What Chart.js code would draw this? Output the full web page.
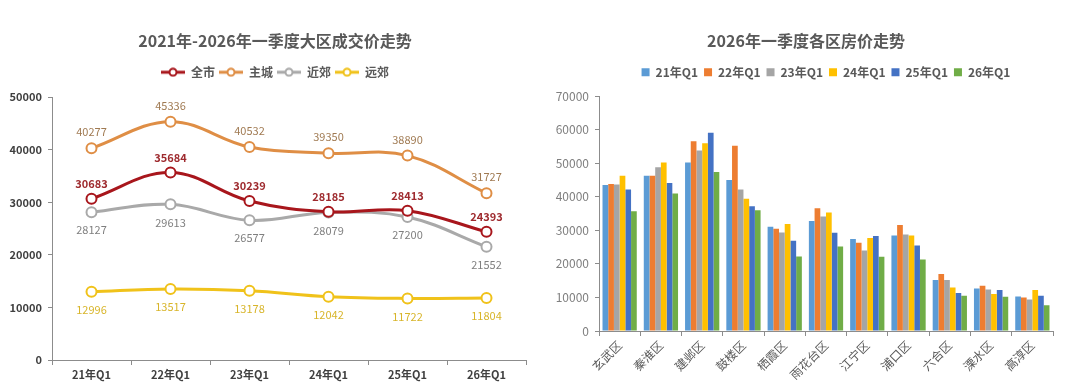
<!DOCTYPE html>
<html><head><meta charset="utf-8">
<script src="https://cdn.jsdelivr.net/npm/chart.js@4.4.1/dist/chart.umd.min.js"></script>
<style>
html,body{margin:0;padding:0;background:#fff;}
#wrap{position:relative;width:1080px;height:388px;}
canvas{position:absolute;top:0;}
#c1{left:0;} #c2{left:540px;}
</style></head><body>
<div id="wrap"><canvas id="c1" width="540" height="388"></canvas><canvas id="c2" width="540" height="388"></canvas></div>
<script>
// ---- Left chart data ----
const quarters = ['21年Q1','22年Q1','23年Q1','24年Q1','25年Q1','26年Q1'];
const cityAll = [30683,35684,30239,28185,28413,24393];
const mainCity = [40277,45336,40532,39350,38890,31727];
const nearSuburb = [28127,29613,26577,28079,27200,21552];
const farSuburb = [12996,13517,13178,12042,11722,11804];
const lineNames = ['全市','主城','近郊','远郊'];

// ---- Right chart data ----
const districts = ['玄武区','秦淮区','建邺区','鼓楼区','栖霞区','雨花台区','江宁区','浦口区','六合区','溧水区','高淳区'];
const barNames = ['21年Q1','22年Q1','23年Q1','24年Q1','25年Q1','26年Q1'];
const q21 = [43500,46300,50200,45000,31100,32800,27400,28500,15200,12700,10300];
const q22 = [43800,46300,56600,55200,30500,36600,26300,31600,17000,13500,10000];
const q23 = [43700,48800,53800,42200,29400,34100,24000,28800,15200,12400,9400];
const q24 = [46300,50200,56000,39400,31900,35300,27700,28500,13000,11000,12200];
const q25 = [42200,44100,59100,37200,26900,29300,28300,25500,11300,12200,10500];
const q26 = [35700,41000,47400,36000,22200,25200,22100,21300,10500,10200,7700];

const FAM = '"Noto Sans CJK SC", "Noto Sans", sans-serif';
Chart.defaults.font.family = FAM;
Chart.defaults.animation = false;

const lineColors = ['#A8161C','#DF8E45','#A9A9A9','#F0C21A'];
const labelColors = ['#9E2A2E','#A07A52','#7F7F7F','#D8B52A'];
const labelWeights = ['bold','normal','normal','normal'];
const labelDy = [-15,-16,18,18];

function legendIcon(color){
  const c = document.createElement('canvas');
  c.width = 24; c.height = 10;
  const g = c.getContext('2d');
  g.strokeStyle = color; g.lineWidth = 3;
  g.beginPath(); g.moveTo(0,5); g.lineTo(24,5); g.stroke();
  g.fillStyle = '#fff'; g.lineWidth = 2;
  g.beginPath(); g.arc(12,5,3.5,0,Math.PI*2); g.fill(); g.stroke();
  return c;
}
const icons = lineColors.map(legendIcon);

function spacerPlugin(h){
  return {
    id:'spacer',
    beforeInit(chart){
      const box = {
        position:'top', weight:500, fullSize:true, options:{},
        left:0, top:0, right:0, bottom:0, width:0, height:0,
        isHorizontal(){ return true; },
        update(maxW){ this.width = maxW; this.height = h; },
        draw(){}
      };
      Chart.layouts.addBox(chart, box);
    },
    // let the y tick labels use the left padding area (avoid clipping)
    afterLayout(chart){ if (chart.scales.y) chart.scales.y.left = 0; }
  };
}

const labelPlugin = {
  id:'ptLabels',
  afterDatasetsDraw(chart){
    const ctx = chart.ctx;
    chart.data.datasets.forEach((ds,i)=>{
      const meta = chart.getDatasetMeta(i);
      ctx.save();
      ctx.font = labelWeights[i] + ' 11px ' + FAM;
      ctx.fillStyle = labelColors[i];
      ctx.textAlign = 'center'; ctx.textBaseline = 'middle';
      meta.data.forEach((pt,j)=>{ ctx.fillText(String(ds.data[j]), pt.x, pt.y + labelDy[i]); });
      ctx.restore();
    });
  }
};

const plain = v => String(v);

const lineSeries = [cityAll, mainCity, nearSuburb, farSuburb];
new Chart(document.getElementById('c1'), {
  type:'line',
  data:{
    labels: quarters,
    datasets: lineSeries.map((d,i)=>({
      label: lineNames[i], data: d,
      borderColor: lineColors[i], backgroundColor:'#fff',
      borderWidth: 3, tension: 0.38,
      pointRadius: 5, pointBorderWidth: 2, pointBackgroundColor:'#fff', pointBorderColor: lineColors[i]
    }))
  },
  options:{
    responsive:false,
    layout:{padding:{left:24,right:14,top:0,bottom:0}},
    plugins:{
      title:{display:true,text:'2021年-2026年一季度大区成交价走势',color:'#595959',font:{size:16,weight:'bold'},padding:{top:31,bottom:12}},
      legend:{labels:{usePointStyle:true,pointStyleWidth:24,color:'#595959',font:{size:12,weight:'bold'},padding:4,
        generateLabels(chart){
          return chart.data.datasets.map((ds,i)=>({text:ds.label,pointStyle:icons[i],fillStyle:'#fff',strokeStyle:lineColors[i],lineWidth:0,hidden:false,datasetIndex:i,fontColor:'#595959'}));
        }}},
      tooltip:{enabled:false}
    },
    scales:{
      x:{offset:true,
        grid:{display:true,drawOnChartArea:false,offset:true,tickLength:5,color:'#8c8c8c'},
        border:{display:true,color:'#8c8c8c'},
        ticks:{color:'#404040',font:{size:11,weight:'bold'},padding:3},
        afterFit(s){s.height=28;}
      },
      y:{min:0,max:50000,
        grid:{display:true,drawOnChartArea:false,tickLength:4,color:'#8c8c8c'},
        border:{display:true,color:'#8c8c8c'},
        ticks:{stepSize:10000,color:'#404040',font:{size:11,weight:'bold'},padding:6,callback:plain},
        afterFit(s){s.width=28;}
      }
    }
  },
  plugins:[labelPlugin, spacerPlugin(9)]
});

const barColors = ['#5B9BD5','#ED7D31','#A5A5A5','#FFC000','#4472C4','#70AD47'];
const barSeries = [q21,q22,q23,q24,q25,q26];
new Chart(document.getElementById('c2'), {
  type:'bar',
  data:{
    labels: districts,
    datasets: barSeries.map((d,i)=>({label:barNames[i],data:d,backgroundColor:barColors[i],borderWidth:0,categoryPercentage:0.83,barPercentage:1}))
  },
  options:{
    responsive:false,
    layout:{padding:{left:19,right:27,top:0,bottom:0}},
    plugins:{
      title:{display:true,text:'2026年一季度各区房价走势',color:'#595959',font:{size:16,weight:'bold'},padding:{top:31,bottom:10}},
      legend:{fullSize:false,labels:{boxWidth:8,boxHeight:8,color:'#595959',font:{size:12,weight:'bold'},padding:6}},
      tooltip:{enabled:false}
    },
    scales:{
      x:{
        grid:{display:true,drawOnChartArea:false,offset:true,tickLength:5,color:'#8c8c8c'},
        border:{display:true,color:'#8c8c8c'},
        ticks:{color:'#595959',font:{size:12},maxRotation:45,minRotation:45,padding:2},
        afterFit(s){s.height=57;}
      },
      y:{min:0,max:70000,
        grid:{display:true,drawOnChartArea:false,tickLength:4,color:'#8c8c8c'},
        border:{display:true,color:'#8c8c8c'},
        ticks:{stepSize:10000,color:'#7f7f7f',font:{size:12},padding:6,callback:plain},
        afterFit(s){s.width=40;}
      }
    }
  },
  plugins:[spacerPlugin(8)]
});
</script>
</body></html>
